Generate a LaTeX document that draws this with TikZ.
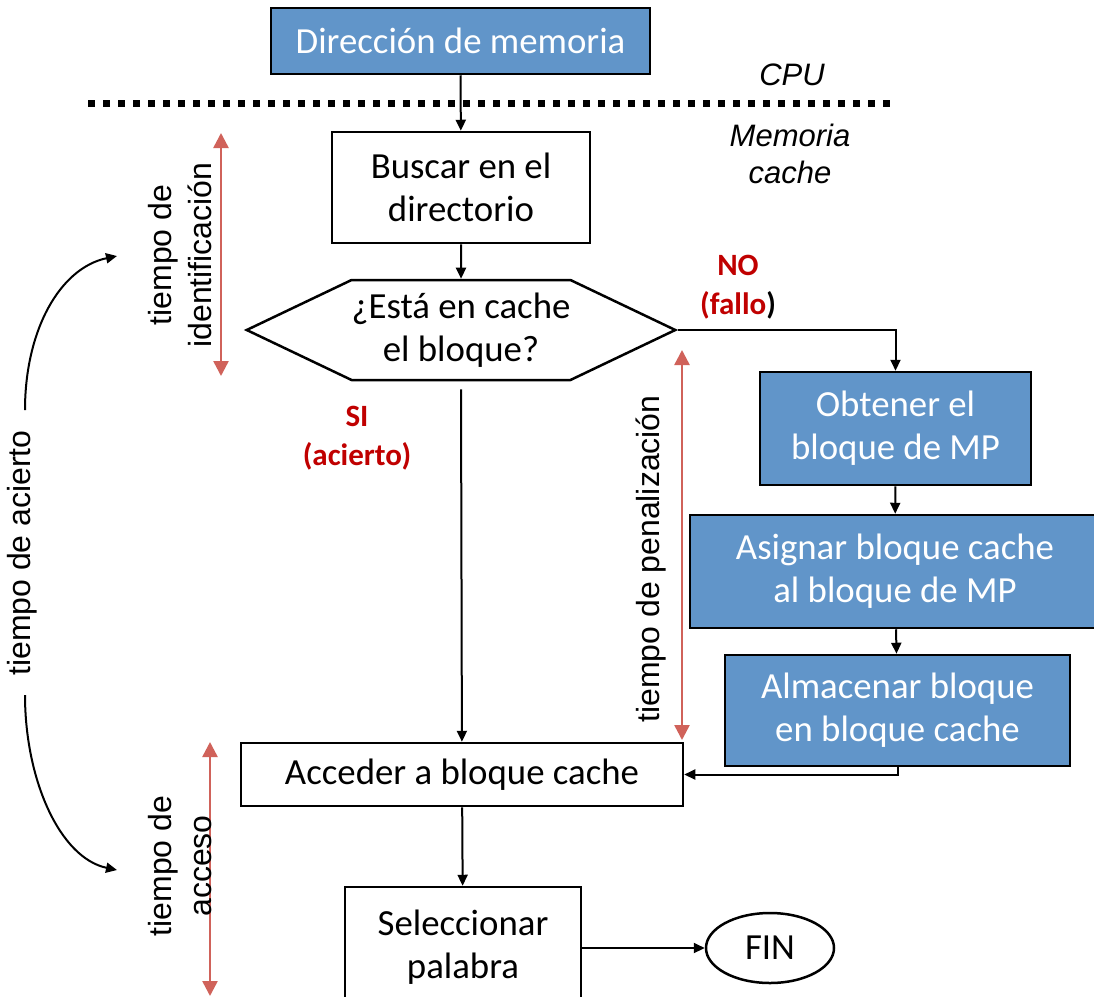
\documentclass[tikz,border=0pt]{standalone}
\usepackage{fontspec}
\setmainfont{Carlito}
\newfontfamily\arialfont{Liberation Sans}
\usetikzlibrary{arrows.meta,shapes.symbols,shapes.geometric}
\definecolor{boxblue}{RGB}{97,149,201}
\definecolor{timered}{RGB}{208,98,90}
\definecolor{labelred}{RGB}{192,0,0}
\begin{document}
\begin{tikzpicture}[x=1pt,y=-1pt,
	box/.style={draw,line width=2.5pt,align=center,inner sep=0pt,font=\fontsize{36.8}{43}\selectfont},
	bluebox/.style={box,fill=boxblue,text=white},
	hexbox/.style={box,signal,signal to=east and west,signal pointer angle=51},
	flow/.style={line width=2pt,-{Triangle[width=10pt,length=11pt]}},
	span/.style={draw=timered,line width=2.5pt,{Triangle[width=15pt,length=15pt]}-{Triangle[width=15pt,length=15pt]}},
	timelabel/.style={rotate=90,align=center,font=\arialfont\fontsize{32}{40}\selectfont},
	answer/.style={align=center,text=labelred,font=\bfseries\fontsize{31}{39}\selectfont}]
	\useasboundingbox (0,0) rectangle (1094,996);
	% main flow
	\node[bluebox,minimum width=379pt,minimum height=66pt] (dir) at (460.5,41) {Dirección de memoria};
	\node[box,minimum width=258pt,minimum height=111pt] (buscar) at (461,187.5) {Buscar en el\\directorio};
	\node[hexbox,minimum width=422pt,minimum height=100pt] (check) at (461,330) {¿Está en cache\\el bloque?};
	\node[bluebox,minimum width=271pt,minimum height=113pt] (obtener) at (895.5,428.5) {Obtener el\\bloque de MP};
	\node[bluebox,minimum width=410pt,minimum height=113pt] (asignar) at (895,571.5) {Asignar bloque cache\\al bloque de MP};
	\node[bluebox,minimum width=345pt,minimum height=111pt] (almacenar) at (897.5,710.5) {Almacenar bloque\\en bloque cache};
	\node[box,minimum width=442pt,minimum height=63pt] (acceder) at (462,774.5) {Acceder a bloque cache};
	\node[box,minimum width=236pt,minimum height=120pt] (selec) at (463,947) {Seleccionar\\palabra};
	\node[box,ellipse,minimum width=128pt,minimum height=70pt] (fin) at (770,948) {FIN};
	% CPU / cache boundary
	\draw[line width=7pt,dash pattern=on 7pt off 8pt] (88,103) -- (897,103);
	\node[font=\arialfont\itshape\fontsize{31}{37}\selectfont] (cpu) at (792,75) {CPU};
	\node[align=center,font=\arialfont\itshape\fontsize{31}{37}\selectfont] (cache) at (790,154) {Memoria\\cache};
	% connectors
	\draw[flow] (dir) to (buscar);
	\draw[flow] (buscar) to (check);
	\draw[flow] (check.east) -| (obtener.north);
	\draw[flow] (obtener) to (asignar);
	\draw[flow] (asignar) to (almacenar);
	\draw[flow] (almacenar.south) |- (acceder.east);
	\draw[flow] ([yshift=-8pt]check.south) to (acceder);
	\draw[flow] (acceder) to (selec);
	\draw[flow] (selec.east |- fin) to (fin);
	\node[answer] (no) at (738,287) {NO\\(fallo\textcolor{black}{)}};
	\node[answer] (si) at (357,438) {SI\\(acierto)};
	% times
	\coordinate (idtop) at (221,133);
	\coordinate (idbot) at (221,376);
	\coordinate (pentop) at (682,350);
	\coordinate (penbot) at (682,740);
	\coordinate (acctop) at (210,742);
	\coordinate (accbot) at (210,996);
	\draw[span] (idtop) to (idbot);
	\draw[span] (pentop) to (penbot);
	\draw[span] (acctop) to (accbot);
	\node[timelabel] (tid) at (180,255) {tiempo de\\identificación};
	\node[timelabel] (tpen) at (651,559) {tiempo de penalización};
	\node[timelabel] (tacc) at (180,866) {tiempo de\\acceso};
	\node[timelabel] (tacierto) at (22,553) {tiempo de acierto};
	\coordinate (upstart) at (25,410);
	\coordinate (upend) at (117,256);
	\coordinate (downstart) at (25,695);
	\coordinate (downend) at (117,870);
	\draw[flow] (upstart) .. controls (25,330) and (60,268) .. (upend);
	\draw[flow] (downstart) .. controls (25,780) and (60,858) .. (downend);
\end{tikzpicture}
\end{document}
